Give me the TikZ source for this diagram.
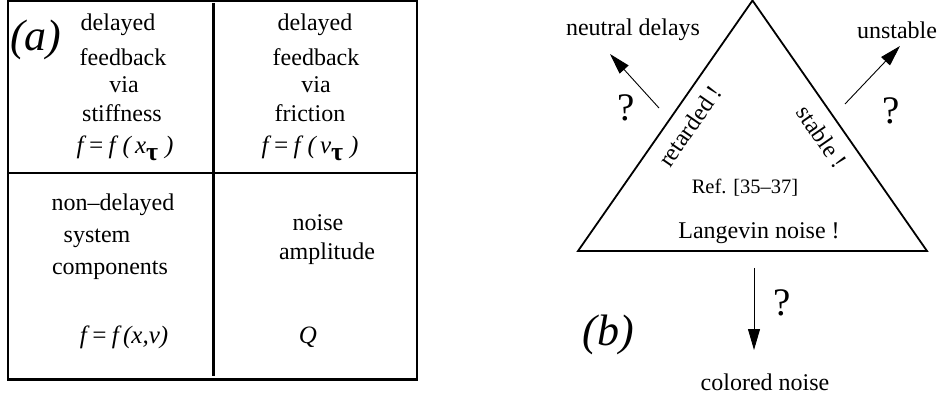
\documentclass[tikz,border=0pt]{standalone}
\usepackage{fontspec}
\setmainfont{Liberation Serif}
\usetikzlibrary{arrows.meta}
\newcommand{\tausub}{\raisebox{-7pt}{\fontsize{26}{26}\selectfont\upshape\bfseries τ}}
\begin{document}
\begin{tikzpicture}[x=1pt,y=-1pt,
  txt/.style={font=\fontsize{24}{24}\selectfont, inner sep=0pt, anchor=center},
  formula/.style={font=\fontsize{25}{25}\selectfont\itshape, inner sep=0pt, anchor=center},
  small/.style={font=\fontsize{20.5}{20.5}\selectfont, inner sep=0pt, anchor=center},
  big/.style={font=\fontsize{44}{44}\selectfont\itshape, inner sep=0pt, anchor=center},
  qm/.style={font=\fontsize{39}{39}\selectfont, inner sep=0pt, anchor=center},
  frame/.style={line width=2.2pt},
  tri/.style={line width=1.8pt, line join=miter},
  arr/.style={line width=0.9pt, -{Triangle[length=21pt,width=12pt]}}]
\useasboundingbox (0,0) rectangle (940,398);
% ---- panel (a)
\draw[frame] (8,0.5) rectangle (417,379.5);
\draw[frame] (8,173) -- (417,173);
\draw[line width=2.6pt] (213.5,3) -- (213.5,376);
\node[big] (la) at (36,40) {(a)};
\node[txt] (d1) at (118,25) {delayed};
\node[txt] (f1) at (123,57) {feedback};
\node[txt] (v1) at (124,85) {via};
\node[txt] (s1) at (122,113) {stiffness};
\node[formula] (e1) at (125,148) {f\,=\,f\;(\,x\tausub\;)};
\node[txt] (d2) at (315,25) {delayed};
\node[txt] (f2) at (316,57) {feedback};
\node[txt] (v2) at (316,85) {via};
\node[txt] (s2) at (310,113) {friction};
\node[formula] (e2) at (310,148) {f\,=\,f\;(\,v\tausub\;)};
\node[txt] (n1) at (113,205) {non–delayed};
\node[txt] (n2) at (97,238) {system};
\node[txt] (n3) at (110,270) {components};
\node[formula] (n4) at (124,337) {f\,=\,f\,(x,v)};
\node[txt] (m1) at (318,223) {noise};
\node[txt] (m2) at (327,254) {amplitude};
\node[formula] (m3) at (308,337) {Q};
% ---- panel (b)
\coordinate (A) at (752.5,0.5);
\coordinate (B) at (578,251);
\coordinate (C) at (927,251);
\draw[tri] (A) -- (B) -- (C) -- cycle;
\node[txt] (nd) at (633,30) {neutral delays};
\node[txt] (us) at (897,30) {unstable};
\coordinate (l0) at (659,108);
\coordinate (l1) at (610,54);
\draw[arr] (l0) -- (l1);
\coordinate (r0) at (845,104);
\coordinate (r1) at (900,46);
\draw[arr] (r0) -- (r1);
\node[qm] (q1) at (626,108) {?};
\node[qm] (q2) at (891,111) {?};
\node[txt, rotate=55.3] (ret) at (690,126) {retarded !};
\node[txt, rotate=-55.3] (stb) at (822,137) {stable !};
\node[small] (ref) at (745,188) {Ref. [35–37]};
\node[txt] (lan) at (759,233) {Langevin noise !};
\coordinate (d0) at (754,268);
\coordinate (d1c) at (754,350);
\draw[arr] (d0) -- (d1c);
\node[qm] (q3) at (782,303) {?};
\node[big] (lb) at (608,335) {(b)};
\node[txt] (cn) at (765,382) {colored noise};
\end{tikzpicture}
\end{document}
